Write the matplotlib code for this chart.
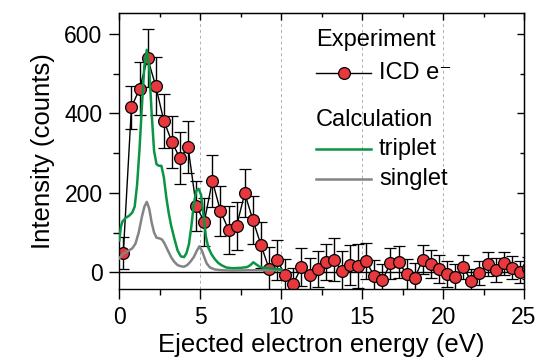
import matplotlib.pyplot as plt
from matplotlib.lines import Line2D
from matplotlib.ticker import MultipleLocator

plt.rcParams['font.family'] = ['Liberation Sans', 'DejaVu Sans']

# measured ICD electron spectrum
energy = [0.25, 0.75, 1.25, 1.75, 2.25, 2.75, 3.25, 3.75, 4.25, 4.75,
          5.25, 5.75, 6.25, 6.75, 7.25, 7.75, 8.25, 8.75, 9.25, 9.75,
          10.25, 10.75, 11.25, 11.75, 12.25, 12.75, 13.25, 13.75, 14.25, 14.75,
          15.25, 15.75, 16.25, 16.75, 17.25, 17.75, 18.25, 18.75, 19.25, 19.75,
          20.25, 20.75, 21.25, 21.75, 22.25, 22.75, 23.25, 23.75, 24.25, 24.75,
          25.25]
counts = [49, 415, 462, 539, 469, 382, 328, 287, 315, 167,
          127, 230, 154, 107, 117, 199, 132, 69, 9, 31,
          -8, -29, 13, -8, 8, 26, 32, 3, 18, 16,
          28, -10, -20, 22, 26, -5, -14, 32, 20, 9,
          -5, -13, 13, -23, -1, 20, 5, 22, 11, 1,
          11]
errors = [40, 55, 67, 73, 73, 68, 66, 66, 65, 62,
          60, 65, 62, 60, 60, 60, 60, 58, 55, 50,
          42, 40, 48, 45, 45, 45, 55, 50, 50, 55,
          45, 42, 40, 40, 40, 38, 38, 36, 35, 35,
          33, 33, 30, 30, 30, 30, 30, 29, 29, 28,
          28]

# calculated spectra
trip_x = [0.0, 0.1, 0.2, 0.4, 0.6, 0.8, 0.95, 1.1, 1.25, 1.4, 1.55, 1.7,
          1.85, 2.0, 2.15, 2.3, 2.45, 2.6, 2.75, 2.9, 3.05, 3.2, 3.4, 3.6,
          3.8, 4.0, 4.15, 4.3, 4.45, 4.6, 4.75, 4.9, 5.05, 5.2, 5.35, 5.5,
          5.7, 5.9, 6.1, 6.3, 6.6, 7.0, 7.5, 7.9, 8.1, 8.28, 8.45, 8.7,
          9.0, 9.5, 10.0]
trip_y = [80, 115, 128, 137, 142, 150, 165, 220, 310, 420, 520, 560,
          515, 400, 305, 272, 268, 268, 240, 190, 150, 118, 85, 55,
          40, 38, 48, 70, 115, 170, 205, 210, 195, 145, 90, 62,
          45, 33, 24, 18, 12, 10, 11, 13, 18, 25, 20, 13,
          11, 9, 7]
sing_x = [0.0, 0.2, 0.4, 0.6, 0.8, 1.0, 1.2, 1.4, 1.55, 1.7, 1.85, 2.0,
          2.15, 2.3, 2.5, 2.65, 2.8, 3.0, 3.2, 3.4, 3.6, 3.8, 4.0, 4.2,
          4.4, 4.6, 4.8, 4.95, 5.1, 5.25, 5.4, 5.6, 5.9, 6.3, 7.0, 8.0,
          9.0, 10.0]
sing_y = [35, 45, 50, 55, 60, 72, 100, 140, 165, 177, 160, 125,
          100, 87, 85, 82, 72, 55, 38, 26, 18, 15, 14, 18,
          27, 38, 55, 65, 55, 38, 22, 12, 7, 5, 4, 5,
          5, 5]

red = '#e8383d'
green = '#0a9444'
grey = '#848484'

fig = plt.figure(figsize=(5.39, 3.61), dpi=100)
ax = fig.add_axes([0.2213, 0.1986, 0.7509, 0.7645])

for xv in [5, 10, 15, 20]:
    ax.axvline(xv, color='#b0b0b0', lw=0.7, ls=(0, (3, 3)), zorder=0)
ax.axhline(0, color='black', lw=1.0, zorder=1)

ax.errorbar(energy, counts, yerr=errors, color='black', lw=1.0,
            elinewidth=1.0, capsize=4.3, capthick=1.0,
            marker='o', ms=8.5, mfc=red, mec='black', mew=0.9, zorder=2)
ax.plot(sing_x, sing_y, color=grey, lw=1.8, zorder=3)
ax.plot(trip_x, trip_y, color=green, lw=1.8, zorder=4)

ax.set_xlim(0, 25)
ax.set_ylim(-43, 652)
ax.xaxis.set_major_locator(MultipleLocator(5))
ax.xaxis.set_minor_locator(MultipleLocator(2.5))
ax.yaxis.set_major_locator(MultipleLocator(200))
ax.yaxis.set_minor_locator(MultipleLocator(100))
ax.tick_params(which='both', direction='out', labelsize=16.5, width=1.0)
ax.tick_params(axis='x', which='major', length=7, pad=5)
ax.tick_params(axis='x', which='minor', length=4)
ax.tick_params(axis='y', which='major', length=7, pad=5)
ax.tick_params(axis='y', which='minor', length=4)

# inward ticks on the top and right edges
top = ax.secondary_xaxis('top')
top.xaxis.set_major_locator(MultipleLocator(5))
top.xaxis.set_minor_locator(MultipleLocator(2.5))
top.tick_params(which='both', direction='in', labeltop=False, width=1.0)
top.tick_params(which='major', length=5)
top.tick_params(which='minor', length=3)
right = ax.secondary_yaxis('right')
right.yaxis.set_major_locator(MultipleLocator(200))
right.yaxis.set_minor_locator(MultipleLocator(100))
right.tick_params(which='both', direction='in', labelright=False, width=1.0)
right.tick_params(which='major', length=5)
right.tick_params(which='minor', length=3)
for sp in ax.spines.values():
    sp.set_linewidth(1.0)

ax.set_xlabel('Ejected electron energy (eV)', fontsize=18.5, labelpad=3)
ax.set_ylabel('Intensity (counts)', fontsize=18.5, labelpad=7)

# legend drawn by hand, two groups
tr = ax.transAxes
fs = 17
ax.text(0.486, 0.903, 'Experiment', transform=tr, fontsize=fs, va='center')
ax.add_line(Line2D([0.486, 0.622], [0.783, 0.783], transform=tr,
                   color='black', lw=1.0))
ax.add_line(Line2D([0.554], [0.783], transform=tr, marker='o', ms=8.5,
                   mfc=red, mec='black', mew=0.9))
ax.text(0.642, 0.783, 'ICD e\u207b', transform=tr, fontsize=fs, va='center')
ax.text(0.486, 0.613, 'Calculation', transform=tr, fontsize=fs, va='center')
ax.add_line(Line2D([0.486, 0.622], [0.507, 0.507], transform=tr,
                   color=green, lw=1.8))
ax.text(0.642, 0.507, 'triplet', transform=tr, fontsize=fs, va='center')
ax.add_line(Line2D([0.486, 0.622], [0.399, 0.399], transform=tr,
                   color=grey, lw=1.8))
ax.text(0.642, 0.399, 'singlet', transform=tr, fontsize=fs, va='center')

fig.savefig('out.png', dpi=100)
